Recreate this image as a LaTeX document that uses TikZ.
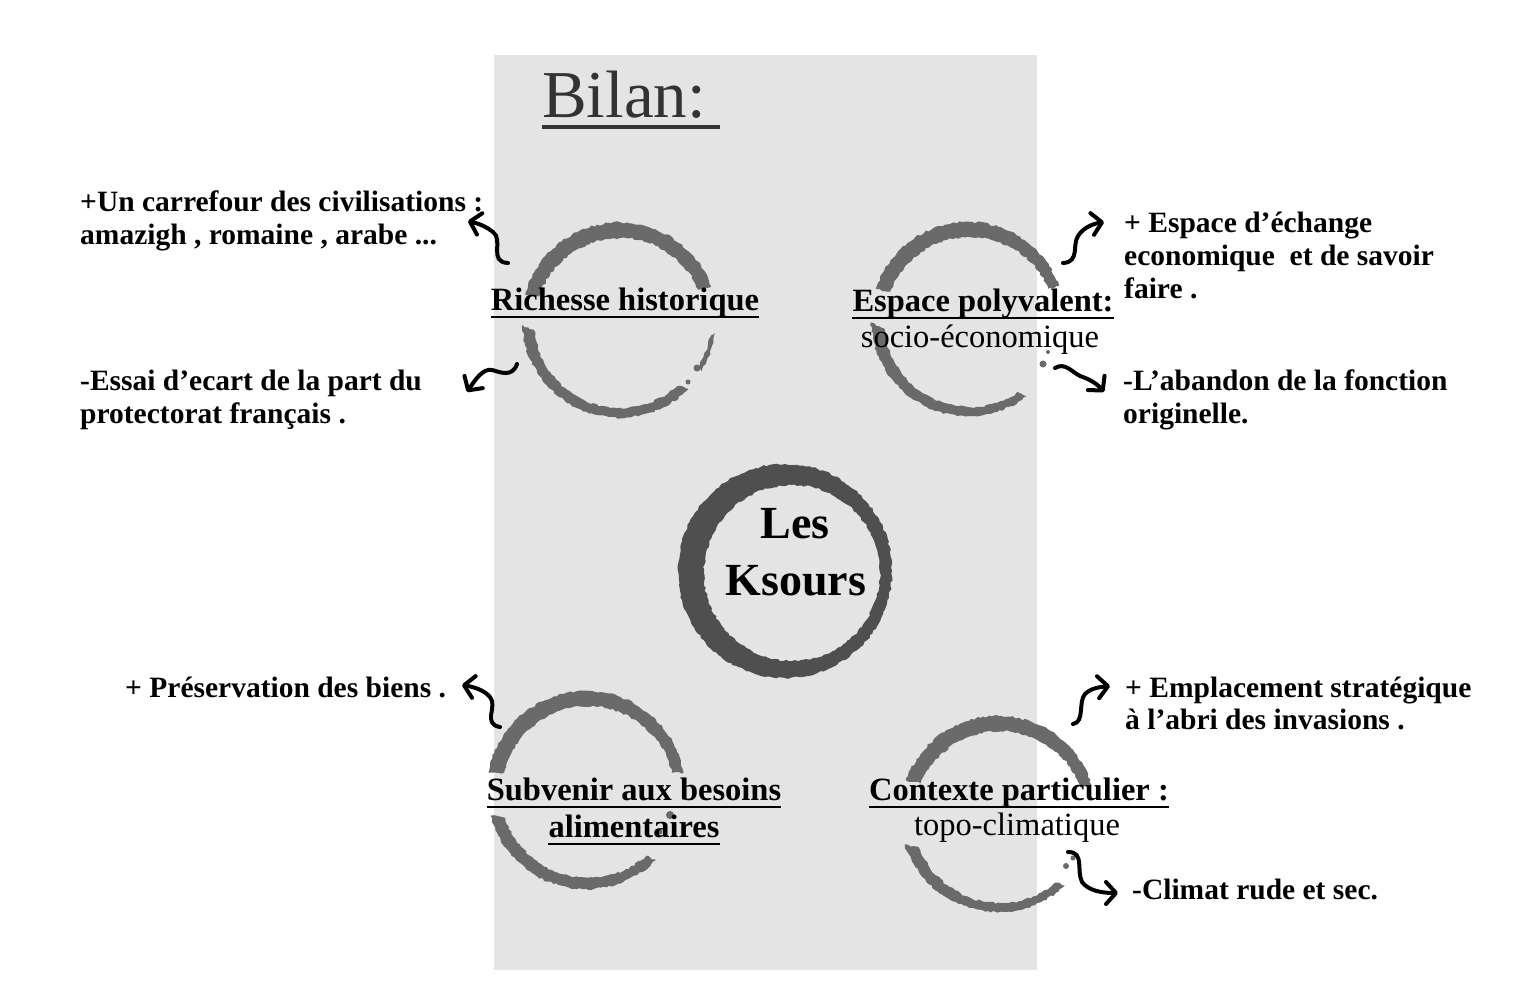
\documentclass[tikz,border=0pt]{standalone}
\usepackage{fontspec}
\setmainfont{Liberation Serif}
\usetikzlibrary{arrows.meta,decorations.pathmorphing}
\definecolor{panel}{HTML}{E4E4E4}
\definecolor{ringcol}{HTML}{6A6A6A}
\definecolor{corecol}{HTML}{4F4F4F}
\definecolor{titlecol}{HTML}{333333}
% outer centre x,y, R ; inner centre x,y, r ; angle from, angle to ; style
\newcommand\ringseg[9]{%
  \fill[#9] ([shift={(#7:#3)}]#1,#2) arc[start angle=#7,end angle=#8,radius=#3]
    -- ([shift={(#8-3:#6)}]#4,#5) arc[start angle=#8-3,end angle=#7+3,radius=#6] -- cycle;}
\begin{document}
\begin{tikzpicture}[x=1pt,y=-1pt,
  body/.style={font=\fontsize{29.5}{34}\selectfont\bfseries, inner sep=0, anchor=base west},
  lbl/.style={font=\fontsize{32.5}{36}\selectfont\bfseries, inner sep=0, anchor=base},
  sublbl/.style={font=\fontsize{32.5}{36}\selectfont, inner sep=0, anchor=base},
  corelbl/.style={font=\fontsize{46}{50}\selectfont\bfseries, inner sep=0, anchor=base},
  uline/.style={line width=2.8pt, black},
  ring/.style={ringcol, decorate,
    decoration={random steps, segment length=3pt, amplitude=1.1pt}},
  curl/.style={line width=4pt, line cap=round, black,
    -{Straight Barb[round, length=10pt, width=22pt]}}]
\pgfmathsetseed{7}
\useasboundingbox (0,0) rectangle (1530,991);
\fill[white] (0,0) rectangle (1530,991);
\fill[panel] (494,55) rectangle (1037,970);

% title
\node[anchor=base west, text=titlecol, inner sep=0,
  font=\fontsize{67}{70}\selectfont] (title) at (542,117) {Bilan:};
\draw[titlecol, line width=3.2pt] ([yshift=-10pt]title.base west) -- ++(178,0);

% ---- rings ----
% Richesse historique
\ringseg{619.5}{320}{97.5}{620}{323}{85}{195}{340}{ring}
\ringseg{619.5}{320}{97.5}{620}{322}{86}{45}{177}{ring}
\ringseg{619.5}{320}{96.5}{620}{321}{91}{8}{32}{ring}
\fill[ringcol] (697,368) circle[radius=3.5] (688,382) circle[radius=2.5];
% Espace polyvalent
\ringseg{968}{319}{97}{970}{322}{85}{198}{340}{ring}
\ringseg{968}{319}{97}{970}{321}{86}{53}{178}{ring}
\fill[ringcol] (1043,364) circle[radius=3.5] (1048,352) circle[radius=2];
% Subvenir
\ringseg{586}{790}{99}{588}{792}{86}{190}{350}{ring}
\ringseg{586}{790}{99}{588}{791}{87}{45}{165}{ring}
\fill[ringcol] (670,815) circle[radius=4] (660,832) circle[radius=2.5];
% Contexte
\ringseg{998}{814}{98}{1000}{817}{86}{200}{343}{ring}
\ringseg{998}{814}{98}{1000}{816}{87}{47}{162}{ring}
\fill[ringcol] (1073,858) circle[radius=2.5] (1066,866) circle[radius=3];
% central ring
\fill[corecol, even odd rule, decorate, decoration={random steps, segment length=3pt, amplitude=1pt}]
  (785,571) circle[radius=107] (792,573) circle[radius=88];

% ---- labels ----
\node[lbl] (l1) at (625,310) {Richesse historique};
\draw[uline] ([yshift=-7pt]l1.base west) -- ([yshift=-7pt]l1.base east);
\node[lbl] (l2) at (983,311) {Espace polyvalent:};
\draw[uline] ([yshift=-7pt]l2.base west) -- ([yshift=-7pt]l2.base east);
\node[sublbl] (l2b) at (980,347) {socio-économique};
\node[lbl] (l3a) at (634,800) {Subvenir aux besoins};
\draw[uline] ([yshift=-7pt]l3a.base west) -- ([yshift=-7pt]l3a.base east);
\node[lbl] (l3b) at (634,837) {alimentaires};
\draw[uline] ([yshift=-7pt]l3b.base west) -- ([yshift=-7pt]l3b.base east);
\node[lbl] (l4) at (1019,800) {Contexte particulier :};
\draw[uline] ([yshift=-7pt]l4.base west) -- ([yshift=-7pt]l4.base east);
\node[sublbl] (l4b) at (1017,835) {topo-climatique};
\node[corelbl] (c1) at (795,538) {Les};
\node[corelbl] (c2) at (796,595) {Ksours};

% ---- side texts ----
\node[body] (t1a) at (80,211) {+Un carrefour des civilisations :};
\node[body] (t1b) at (80,244) {amazigh , romaine , arabe ...};
\node[body] (t2a) at (80,390) {-Essai d’ecart de la part du};
\node[body] (t2b) at (80,423) {protectorat français .};
\node[body] (t3a) at (1124,232) {+ Espace d’échange};
\node[body] (t3b) at (1124,265) {economique\ \ et de savoir};
\node[body] (t3c) at (1124,298) {faire .};
\node[body] (t4a) at (1123,390) {-L’abandon de la fonction};
\node[body] (t4b) at (1123,423) {originelle.};
\node[body] (t5) at (125,697) {+ Préservation des biens .};
\node[body] (t6a) at (1125,697) {+ Emplacement stratégique};
\node[body] (t6b) at (1125,729) {à l’abri des invasions .};
\node[body] (t7) at (1132,899) {-Climat rude et sec.};

% ---- curly arrows ----
\coordinate (a1s) at (508,263); \coordinate (a1e) at (468,221);
\draw[curl] (a1s) .. controls (488,262) and (504,240) .. (493,232) .. controls (487,227) and (480,224) .. (a1e);
\coordinate (a2s) at (517,364); \coordinate (a2e) at (467,392);
\draw[curl] (a2s) .. controls (512,378) and (500,372) .. (492,370) .. controls (483,368) and (475,380) .. (a2e);
\coordinate (a3s) at (1063,263); \coordinate (a3e) at (1104,222);
\draw[curl] (a3s) .. controls (1080,262) and (1072,245) .. (1078,236) .. controls (1083,228) and (1092,224) .. (a3e);
\coordinate (a4s) at (1055,368); \coordinate (a4e) at (1104,392);
\draw[curl] (a4s) .. controls (1065,362) and (1072,372) .. (1080,376) .. controls (1092,380) and (1098,385) .. (a4e);
\coordinate (a5s) at (500,727); \coordinate (a5e) at (462,685);
\draw[curl] (a5s) .. controls (482,724) and (498,706) .. (490,697) .. controls (484,690) and (474,687) .. (a5e);
\coordinate (a6s) at (1073,724); \coordinate (a6e) at (1110,686);
\draw[curl] (a6s) .. controls (1085,722) and (1078,702) .. (1085,694) .. controls (1091,688) and (1100,687) .. (a6e);
\coordinate (a7s) at (1068,852); \coordinate (a7e) at (1118,893);
\draw[curl] (a7s) .. controls (1085,852) and (1076,870) .. (1082,882) .. controls (1088,890) and (1100,893) .. (a7e);
\end{tikzpicture}
\end{document}
